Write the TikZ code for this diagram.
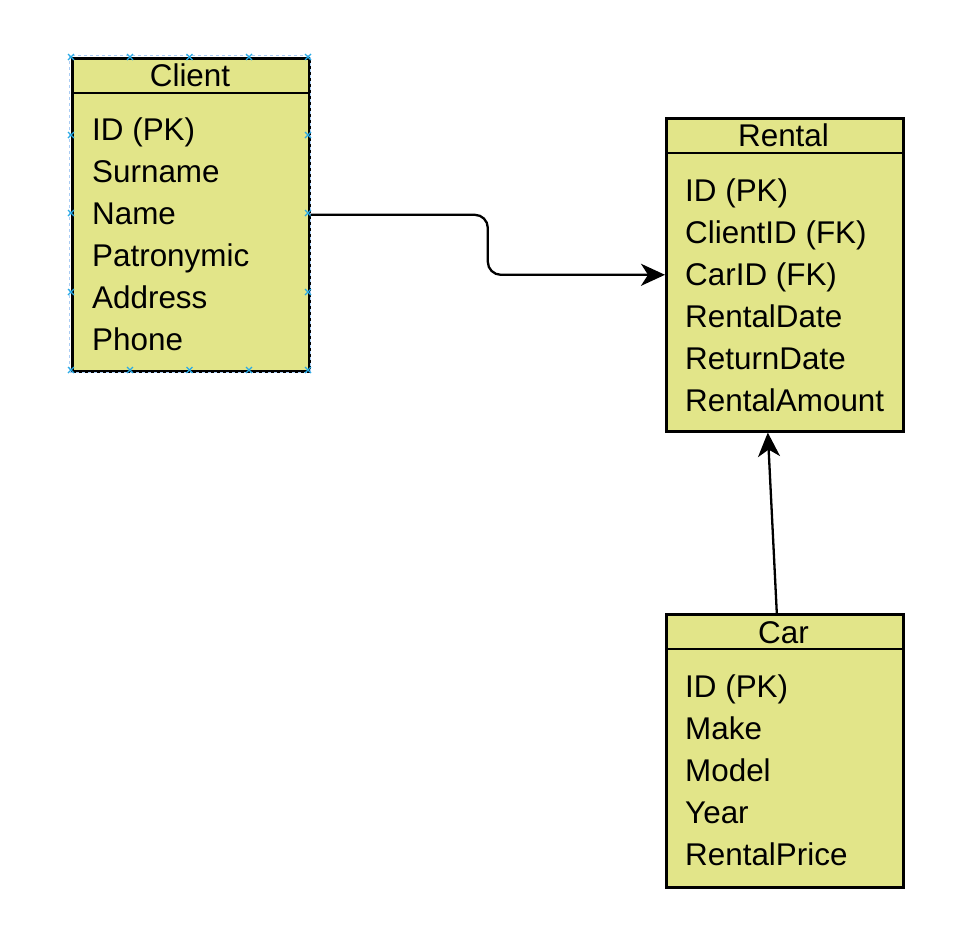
\documentclass[tikz,border=0pt]{standalone}
\usepackage{fontspec}
\setmainfont{Liberation Sans}
\usetikzlibrary{arrows.meta,calc}
\definecolor{tblfill}{RGB}{226,229,137}
\definecolor{selblue}{RGB}{40,170,230}
\definecolor{seldash}{RGB}{170,205,245}
\tikzset{
  tbl/.style={draw=black, line width=2.6pt, fill=tblfill, rectangle, inner sep=0pt, anchor=north west, minimum width=237pt, minimum height=313pt},
  hdr/.style={line width=2.2pt},
  field/.style={anchor=base west, inner sep=0pt, font=\fontsize{31.4}{37}\selectfont},
  title/.style={anchor=base, inner sep=0pt, font=\fontsize{31.4}{37}\selectfont},
  conn/.style={draw=black, line width=2.3pt, -{Stealth[length=24pt, width=22pt, inset=7pt]}},
  selx/.style={draw=selblue, line width=1.2pt},
}
\begin{document}
\begin{tikzpicture}[x=1pt,y=-1pt]
\useasboundingbox (0,0) rectangle (964,948);
% Client
\node[tbl] (client) at (71,57) {};
\draw[hdr] ([yshift=-36pt]client.north west) -- ([yshift=-36pt]client.north east);
\node[title] (clientT) at (190,86) {Client};
\node[field] (c1) at (92,140) {ID (PK)};
\node[field] (c2) at (92,182) {Surname};
\node[field] (c3) at (92,224) {Name};
\node[field] (c4) at (92,266) {Patronymic};
\node[field] (c5) at (92,308) {Address};
\node[field] (c6) at (92,350) {Phone};
% selection outline
\draw[seldash, dashed, line width=0.9pt] (69,55) rectangle (310,372);
\foreach \px/\py in {71/57,130/57,189.5/57,249/57,308/57,71/370,130/370,189.5/370,249/370,308/370,71/135,308/135,71/213,308/213,71/292,308/292}{
  \draw[selx] (\px-3,\py-3) -- (\px+3,\py+3) (\px-3,\py+3) -- (\px+3,\py-3);
}
% Rental
\node[tbl] (rental) at (665,117) {};
\draw[hdr] ([yshift=-36pt]rental.north west) -- ([yshift=-36pt]rental.north east);
\node[title] (rentalT) at (783.5,146) {Rental};
\node[field] (r1) at (685,201) {ID (PK)};
\node[field] (r2) at (685,243) {ClientID (FK)};
\node[field] (r3) at (685,285) {CarID (FK)};
\node[field] (r4) at (685,327) {RentalDate};
\node[field] (r5) at (685,369) {ReturnDate};
\node[field] (r6) at (685,411) {RentalAmount};
% Car
\node[tbl, minimum height=273pt] (car) at (665,613) {};
\draw[hdr] ([yshift=-36pt]car.north west) -- ([yshift=-36pt]car.north east);
\node[title] (carT) at (783.5,643) {Car};
\node[field] (k1) at (685,697) {ID (PK)};
\node[field] (k2) at (685,739) {Make};
\node[field] (k3) at (685,781) {Model};
\node[field] (k4) at (685,823) {Year};
\node[field] (k5) at (685,865) {RentalPrice};
% connectors
\draw[conn, rounded corners=13pt] (client.east) -| ($(client.east)!0.5!(rental.west)$) |- (rental.west);
\draw[conn] ([xshift=-8pt]car.north) -- ([xshift=-17pt]rental.south);
\end{tikzpicture}
\end{document}
